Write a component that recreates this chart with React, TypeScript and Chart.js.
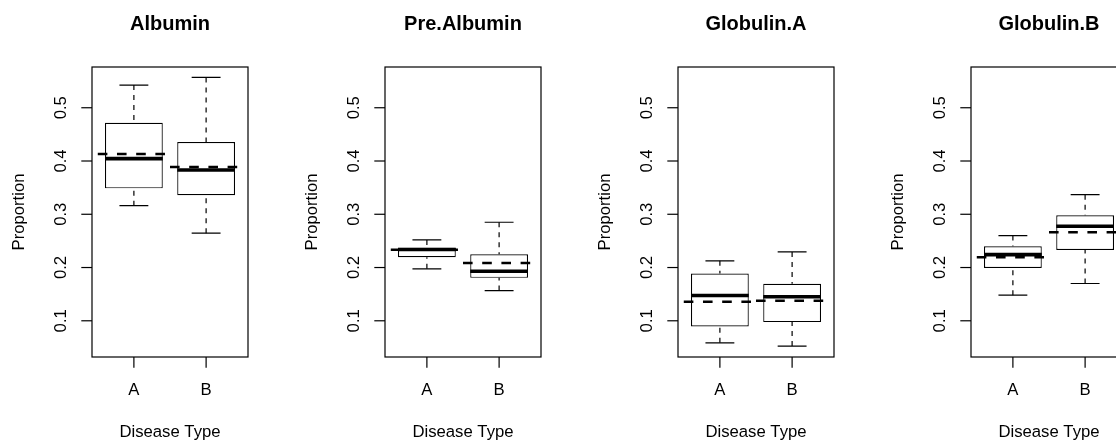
import React, { useEffect, useRef } from "react";
import { Chart, registerables } from "chart.js";

Chart.register(...registerables);

// ---------- data ----------
const panelTitles = ["Albumin", "Pre.Albumin", "Globulin.A", "Globulin.B"];
const categories = ["A", "B"];
const yTicks = [0.1, 0.2, 0.3, 0.4, 0.5];
const yTickLabels = ["0.1", "0.2", "0.3", "0.4", "0.5"];
const xAxisTitle = "Disease Type";
const yAxisTitle = "Proportion";

// one row per panel, one value per category (A, B)
const whiskerLow = [[0.3162, 0.2644], [0.1975, 0.1568], [0.0587, 0.0525], [0.1481, 0.17]];
const quartile1 = [[0.3487, 0.3356], [0.2194, 0.1806], [0.0893, 0.0975], [0.1993, 0.2331]];
const medians = [[0.4044, 0.3831], [0.2338, 0.1931], [0.1474, 0.145], [0.2243, 0.2775]];
const quartile3 = [[0.4719, 0.4356], [0.237, 0.225], [0.1887, 0.1693], [0.24, 0.2981]];
const whiskerHigh = [[0.5425, 0.5569], [0.2518, 0.285], [0.2125, 0.2293], [0.26, 0.3368]];
const means = [[0.4131, 0.3887], [0.2335, 0.2087], [0.1356, 0.1375], [0.2194, 0.2662]];

const Y_MIN = 0.032;
const Y_MAX = 0.5765;
const X_MIN = 0.42;
const X_MAX = 2.58;

const FONT = "'Liberation Sans', Arial, Helvetica, sans-serif";
const PANEL_W = 293;
const PANEL_H = 441;

const boxPlugin = {
  id: "rbox",
  afterDatasetsDraw(chart: any) {
    const p: number = chart.options.plugins.rbox.panel;
    const ctx: CanvasRenderingContext2D = chart.ctx;
    const xs = chart.scales.x;
    const ys = chart.scales.y;
    const area = chart.chartArea;
    const ux = (v: number) => xs.getPixelForValue(v);
    const uy = (v: number) => ys.getPixelForValue(v);

    ctx.save();
    ctx.beginPath();
    ctx.rect(area.left, area.top, area.right - area.left, area.bottom - area.top);
    ctx.clip();
    ctx.strokeStyle = "#000";

    categories.forEach((_, i) => {
      const c = i + 1;
      const x = ux(c);
      // whiskers (dashed)
      ctx.lineWidth = 1.2;
      ctx.setLineDash([5, 5]);
      ctx.lineCap = "butt";
      ctx.beginPath();
      ctx.moveTo(x, uy(whiskerLow[p][i]));
      ctx.lineTo(x, uy(quartile1[p][i]));
      ctx.moveTo(x, uy(whiskerHigh[p][i]));
      ctx.lineTo(x, uy(quartile3[p][i]));
      ctx.stroke();
      // staples
      ctx.setLineDash([]);
      ctx.beginPath();
      ctx.moveTo(ux(c - 0.2), uy(whiskerLow[p][i]));
      ctx.lineTo(ux(c + 0.2), uy(whiskerLow[p][i]));
      ctx.moveTo(ux(c - 0.2), uy(whiskerHigh[p][i]));
      ctx.lineTo(ux(c + 0.2), uy(whiskerHigh[p][i]));
      ctx.stroke();
      // median
      ctx.lineWidth = 3.6;
      ctx.beginPath();
      ctx.moveTo(ux(c - 0.4), uy(medians[p][i]));
      ctx.lineTo(ux(c + 0.4), uy(medians[p][i]));
      ctx.stroke();
    });

    // means (thick dashed)
    categories.forEach((_, i) => {
      const c = i + 1;
      ctx.lineWidth = 2.5;
      ctx.setLineDash([9.6, 9.6]);
      ctx.beginPath();
      ctx.moveTo(ux(c - 0.5), uy(means[p][i]));
      ctx.lineTo(ux(c + 0.5), uy(means[p][i]));
      ctx.stroke();
    });
    ctx.restore();
  },
  afterDraw(chart: any) {
    const p: number = chart.options.plugins.rbox.panel;
    const ctx: CanvasRenderingContext2D = chart.ctx;
    const xs = chart.scales.x;
    const ys = chart.scales.y;
    const area = chart.chartArea;
    ctx.save();
    ctx.strokeStyle = "#000";
    ctx.fillStyle = "#000";
    ctx.setLineDash([]);
    ctx.lineWidth = 1.2;
    // frame
    ctx.strokeRect(area.left, area.top, area.right - area.left, area.bottom - area.top);

    // y ticks
    ctx.font = `16.7px ${FONT}`;
    yTicks.forEach((t, k) => {
      const y = ys.getPixelForValue(t);
      ctx.beginPath();
      ctx.moveTo(area.left, y);
      ctx.lineTo(area.left - 10.7, y);
      ctx.stroke();
      ctx.save();
      ctx.translate(area.left - 25.6, y);
      ctx.rotate(-Math.PI / 2);
      ctx.textAlign = "center";
      ctx.textBaseline = "alphabetic";
      ctx.fillText(yTickLabels[k], 0, 0);
      ctx.restore();
    });

    // x ticks
    categories.forEach((lab, i) => {
      const x = xs.getPixelForValue(i + 1);
      ctx.beginPath();
      ctx.moveTo(x, area.bottom);
      ctx.lineTo(x, area.bottom + 10.7);
      ctx.stroke();
      ctx.textAlign = "center";
      ctx.textBaseline = "alphabetic";
      ctx.fillText(lab, x, area.bottom + 38);
    });

    // axis titles
    const cx = (area.left + area.right) / 2;
    const cy = (area.top + area.bottom) / 2;
    ctx.textAlign = "center";
    ctx.fillText(xAxisTitle, cx, area.bottom + 80);
    ctx.save();
    ctx.translate(area.left - 67.8, cy);
    ctx.rotate(-Math.PI / 2);
    ctx.fillText(yAxisTitle, 0, 0);
    ctx.restore();

    // main title
    ctx.font = `bold 20px ${FONT}`;
    ctx.fillText(panelTitles[p], cx, 30);
    ctx.restore();
  },
};

function Panel({ index }: { index: number }) {
  const ref = useRef<HTMLCanvasElement | null>(null);
  useEffect(() => {
    if (!ref.current) return;
    const chart = new Chart(ref.current, {
      type: "bar",
      data: {
        datasets: [
          {
            data: categories.map((_, i) => ({
              x: i + 1,
              y: [quartile1[index][i], quartile3[index][i]],
            })) as any,
            backgroundColor: "#ffffff",
            borderColor: "#000000",
            borderWidth: 1.2,
            borderSkipped: false,
            barPercentage: 1,
            categoryPercentage: 0.8,
          },
        ],
      },
      options: {
        animation: false,
        responsive: false,
        events: [],
        layout: { padding: { left: 92, right: 45, top: 67, bottom: 84 } },
        plugins: {
          legend: { display: false },
          tooltip: { enabled: false },
          title: { display: false },
          rbox: { panel: index },
        } as any,
        scales: {
          x: {
            type: "linear",
            offset: false,
            min: X_MIN,
            max: X_MAX,
            display: false,
            afterBuildTicks: (s: any) => {
              s.ticks = categories.map((_, i) => ({ value: i + 1 }));
            },
          },
          y: { type: "linear", offset: false, min: Y_MIN, max: Y_MAX, display: false },
        },
      },
      plugins: [boxPlugin as any],
    });
    return () => chart.destroy();
  }, [index]);
  return (
    <canvas
      ref={ref}
      width={PANEL_W}
      height={PANEL_H}
      style={{
        position: "absolute",
        left: index * PANEL_W,
        top: 0,
        width: PANEL_W,
        height: PANEL_H,
      }}
    />
  );
}

export default function App() {
  return (
    <div
      style={{
        position: "absolute",
        left: 0,
        top: 0,
        width: 1116,
        height: 441,
        overflow: "hidden",
        background: "#ffffff",
      }}
    >
      {panelTitles.map((_, i) => (
        <Panel key={i} index={i} />
      ))}
    </div>
  );
}
